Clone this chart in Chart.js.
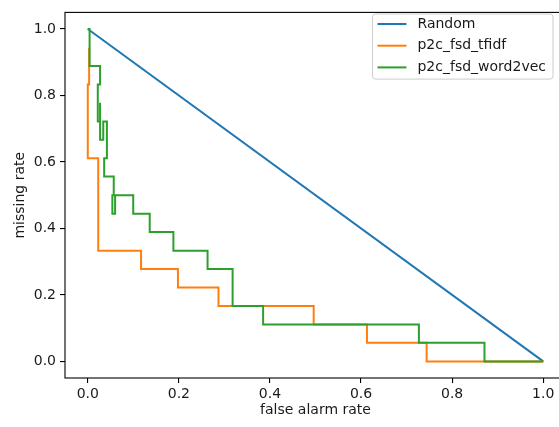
<!DOCTYPE html>
<html>
<head>
<meta charset="utf-8">
<script src="https://cdn.jsdelivr.net/npm/chart.js@4.4.1/dist/chart.umd.min.js"></script>
<style>
  html, body { margin: 0; padding: 0; background: #fff; overflow: hidden; }
  #wrap { position: relative; width: 580px; height: 427px; }
</style>
</head>
<body>
<div id="wrap"><canvas id="c"></canvas></div>
<script>
// ---- data ----
const seriesLabels = ["Random", "p2c_fsd_tfidf", "p2c_fsd_word2vec"];
const seriesColors = ["#1f77b4", "#ff7f0e", "#2ca02c"];

const randomX = [0, 1];
const randomY = [1, 0];

const tfidfX = [0.003, 0.003, 0, 0, 0.023, 0.023, 0.117, 0.117, 0.198, 0.198, 0.287, 0.287, 0.496, 0.496, 0.613, 0.613, 0.744, 0.744, 1.0];
const tfidfY = [0.944, 0.833, 0.833, 0.611, 0.611, 0.333, 0.333, 0.278, 0.278, 0.222, 0.222, 0.167, 0.167, 0.111, 0.111, 0.056, 0.056, 0, 0];

const w2vX = [0, 0.004, 0.004, 0.027, 0.027, 0.022, 0.022, 0.027, 0.027, 0.027, 0.034, 0.034, 0.042, 0.042, 0.036, 0.036, 0.057, 0.057, 0.054, 0.054, 0.060, 0.060, 0.0998, 0.0998, 0.136, 0.136, 0.188, 0.188, 0.263, 0.263, 0.318, 0.318, 0.385, 0.385, 0.727, 0.727, 0.871, 0.871, 1.0];
const w2vY = [1, 1, 0.889, 0.889, 0.833, 0.833, 0.722, 0.722, 0.778, 0.667, 0.667, 0.722, 0.722, 0.611, 0.611, 0.556, 0.556, 0.5, 0.5, 0.444, 0.444, 0.5, 0.5, 0.444, 0.444, 0.389, 0.389, 0.333, 0.333, 0.278, 0.278, 0.167, 0.167, 0.111, 0.111, 0.056, 0.056, 0, 0];

const xTicks = [0.0, 0.2, 0.4, 0.6, 0.8, 1.0];
const yTicks = [0.0, 0.2, 0.4, 0.6, 0.8, 1.0];
const xTitle = "false alarm rate";
const yTitle = "missing rate";

// ---- build ----
function pts(xs, ys) { return xs.map((x, i) => ({ x: x, y: ys[i] })); }
const seriesData = [pts(randomX, randomY), pts(tfidfX, tfidfY), pts(w2vX, w2vY)];

const FONT = "'DejaVu Sans', sans-serif";
const TEXT = "#1a1a1a";

const frame = {
  id: 'frame',
  afterDatasetsDraw(chart) {
    const a = chart.chartArea, ctx = chart.ctx;
    ctx.save();
    ctx.strokeStyle = '#000';
    ctx.lineWidth = 1.1;
    ctx.strokeRect(a.left, a.top, a.right - a.left, a.bottom - a.top);
    ctx.restore();
  }
};

const legendBox = {
  id: 'legendBox',
  afterDraw(chart) {
    const ctx = chart.ctx;
    const ds = chart.data.datasets;
    ctx.save();
    ctx.font = "14px " + FONT;
    let maxW = 0;
    ds.forEach(d => { maxW = Math.max(maxW, ctx.measureText(d.label).width); });
    const right = 553, top = 14;
    const rowH = 21.7;
    const w = 5 + 29 + 11 + maxW + 7;
    const h = ds.length * rowH;
    const left = right - w;
    ctx.fillStyle = 'rgba(255,255,255,0.8)';
    ctx.strokeStyle = '#cccccc';
    ctx.lineWidth = 1;
    const r = 3;
    ctx.beginPath();
    ctx.moveTo(left + r, top);
    ctx.lineTo(right - r, top); ctx.quadraticCurveTo(right, top, right, top + r);
    ctx.lineTo(right, top + h - r); ctx.quadraticCurveTo(right, top + h, right - r, top + h);
    ctx.lineTo(left + r, top + h); ctx.quadraticCurveTo(left, top + h, left, top + h - r);
    ctx.lineTo(left, top + r); ctx.quadraticCurveTo(left, top, left + r, top);
    ctx.closePath();
    ctx.fill(); ctx.stroke();
    ds.forEach((d, i) => {
      const cy = top + 10 + i * rowH;
      ctx.strokeStyle = d.borderColor;
      ctx.lineWidth = 2;
      ctx.beginPath();
      ctx.moveTo(left + 5, cy); ctx.lineTo(left + 34, cy);
      ctx.stroke();
      ctx.fillStyle = TEXT;
      ctx.textBaseline = 'middle';
      ctx.textAlign = 'left';
      ctx.fillText(d.label, left + 45, cy);
    });
    ctx.restore();
  }
};

const fmt = v => Number(v).toFixed(1);

new Chart(document.getElementById('c'), {
  type: 'line',
  data: {
    datasets: seriesData.map((d, i) => ({
      label: seriesLabels[i],
      data: d,
      borderColor: seriesColors[i],
      backgroundColor: seriesColors[i],
      borderWidth: 2,
      pointRadius: 0,
      tension: 0,
      fill: false,
      order: 3 - i
    }))
  },
  options: {
    responsive: true,
    maintainAspectRatio: false,
    animation: false,
    devicePixelRatio: 1,
    layout: { padding: { left: 0, top: 6, right: 14, bottom: 0 } },
    plugins: { legend: { display: false }, tooltip: { enabled: false } },
    scales: {
      x: {
        type: 'linear',
        min: -0.05, max: 1.05,
        afterBuildTicks: s => { s.ticks = xTicks.map(v => ({ value: v })); },
        afterFit: s => { s.height = 49; },
        border: { display: false },
        grid: { drawOnChartArea: false, drawTicks: true, tickLength: 5, tickColor: '#000', lineWidth: 1.1 },
        ticks: { callback: fmt, color: TEXT, font: { family: FONT, size: 14 }, padding: 3, maxRotation: 0, autoSkip: false },
        title: { display: true, text: xTitle, color: TEXT, font: { family: FONT, size: 14 }, padding: { top: 0, bottom: 8 } }
      },
      y: {
        type: 'linear',
        min: -0.05, max: 1.05,
        afterBuildTicks: s => { s.ticks = yTicks.map(v => ({ value: v })); },
        afterFit: s => { s.width = 65; },
        border: { display: false },
        grid: { drawOnChartArea: false, drawTicks: true, tickLength: 5, tickColor: '#000', lineWidth: 1.1 },
        ticks: { callback: fmt, color: TEXT, font: { family: FONT, size: 14 }, padding: 4, autoSkip: false },
        title: { display: true, text: yTitle, color: TEXT, font: { family: FONT, size: 14 }, padding: { top: 12, bottom: 0 } }
      }
    }
  },
  plugins: [frame, legendBox]
});
</script>
</body>
</html>
